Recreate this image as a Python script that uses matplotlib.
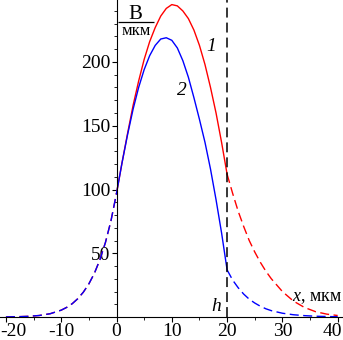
import matplotlib
matplotlib.use("Agg")
import matplotlib.pyplot as plt
from matplotlib.ticker import MultipleLocator, FixedLocator
from matplotlib.transforms import ScaledTranslation

plt.rcParams['font.family'] = ['Liberation Serif', 'DejaVu Serif']
plt.rcParams['mathtext.fontset'] = 'custom'
plt.rcParams['mathtext.rm'] = 'Liberation Serif'
plt.rcParams['mathtext.it'] = 'Liberation Serif:italic'
plt.rcParams['axes.unicode_minus'] = False

# film thickness h, мкм
h = 20

# left tail (x < 0), same for both curves
x_left = [-20, -18, -16, -14, -12, -10, -9, -8, -7, -6, -5, -4, -3, -2, -1, 0]
y_left = [0.1, 0.25, 0.55, 1.2, 2.6, 5.4, 7.6, 10.5, 14.4, 19.5, 26, 34.3, 45, 58.5, 75.5, 97]

# inside the film, 0 <= x <= h
x_in = list(range(0, 21))
y1_in = [97, 121, 144, 166, 185, 202, 216, 227, 236, 242, 245, 244, 240, 234, 225,
         213, 198, 180, 160, 137, 112]
y2_in = [97, 121, 143, 163, 180, 194, 205, 213, 218, 219, 217, 211, 201, 188, 172,
         155, 137, 116, 92, 66, 37]

# right tail (x > h)
x_right = [20, 21, 22, 23, 24, 25, 26, 27, 28, 30, 32, 34, 36, 38, 40]
y1_right = [112, 97, 83, 71, 60, 51, 43, 36, 30, 20, 12.5, 7.5, 4.2, 2.3, 1.2]
y2_right = [37, 29, 23, 18, 14, 11, 8.5, 6.5, 5, 3, 1.8, 1.1, 0.65, 0.4, 0.25]

x_ticks = [-20, -10, 0, 10, 20, 30, 40]
x_labels = ['-20', '-10', '0', '10', '20', '30', '40']
y_ticks = [50, 100, 150, 200]
y_labels = ['50', '100', '150', '200']

red = '#ff0000'
blue = '#0000ff'
dash = (0, (6.5, 3.2))

fig = plt.figure(figsize=(3.43, 3.40), dpi=100)
ax = fig.add_axes([0, 0, 1, 1])

ax.plot(x_left, y_left, color=red, lw=1.0, linestyle=dash)
ax.plot(x_left, y_left, color=blue, lw=1.0, linestyle=dash)
ax.plot(x_in, y1_in, color=red, lw=1.0)
ax.plot(x_in, y2_in, color=blue, lw=1.0)
ax.plot(x_right, y1_right, color=red, lw=1.0, linestyle=dash)
ax.plot(x_right, y2_right, color=blue, lw=1.0, linestyle=dash)

ax.vlines(h, 0, 250, colors='black', lw=1.1, linestyles=[(0, (6.5, 3.3))])

ax.set_xlim(-21.07, 40.96)
ax.set_ylim(-18.0, 248.6)

for s in ['top', 'right']:
    ax.spines[s].set_visible(False)
ax.spines['left'].set_position(('data', 0))
ax.spines['bottom'].set_position(('data', 0))
ax.spines['left'].set_bounds(0, 248.6)
ax.spines['left'].set_linewidth(0.8)
ax.spines['bottom'].set_linewidth(0.8)

ax.set_xticks(x_ticks)
ax.set_xticklabels(x_labels)
ax.set_yticks(y_ticks)
ax.set_yticklabels(y_labels)
ax.xaxis.set_minor_locator(MultipleLocator(5))
ax.yaxis.set_minor_locator(FixedLocator([v for v in range(10, 250, 10) if v % 50]))
ax.tick_params(which='major', direction='out', length=3.5, width=0.8, labelsize=14, pad=0.8)
ax.tick_params(which='minor', direction='out', length=2, width=0.6)

# keep the end labels inside the picture
xl = ax.get_xticklabels()
xl[0].set_transform(xl[0].get_transform() + ScaledTranslation(7.5 / 100, 0, fig.dpi_scale_trans))
xl[-1].set_transform(xl[-1].get_transform() + ScaledTranslation(-5 / 100, 0, fig.dpi_scale_trans))

# unit label В/мкм written as a fraction
ax.text(3.4, 233.7, 'В', fontsize=15, ha='center', va='baseline')
ax.hlines(231.0, 0.3, 6.8, colors='black', lw=0.9)
ax.text(3.6, 221.2, 'мкм', fontsize=12, ha='center', va='baseline')

ax.text(17.1, 212, '1', fontsize=14, style='italic', ha='center', va='center')
ax.text(11.8, 178, '2', fontsize=14, style='italic', ha='center', va='center')
ax.text(18.0, 8.6, r'$h$', fontsize=14, ha='center', va='center')
ax.text(31.7, 15, r'$x$, мкм', fontsize=13, ha='left', va='center')

fig.savefig('out.png', dpi=100)
